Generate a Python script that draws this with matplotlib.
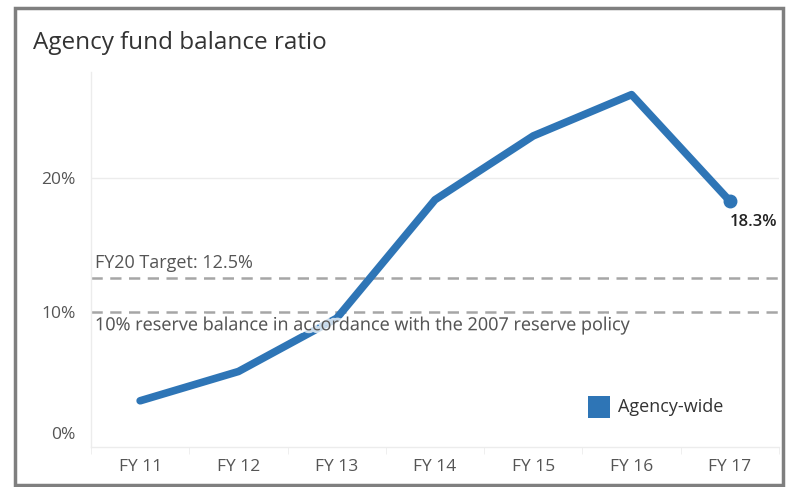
import matplotlib
matplotlib.use("Agg")
import matplotlib.pyplot as plt
from matplotlib.patches import Rectangle
import matplotlib.transforms as mtransforms
import matplotlib.patheffects as pe

categories = ["FY 11", "FY 12", "FY 13", "FY 14", "FY 15", "FY 16", "FY 17"]
values = [3.3, 5.5, 9.5, 18.4, 23.2, 26.3, 18.3]
target = 12.5
reserve = 10.0
series_name = "Agency-wide"
yticks = [0, 10, 20]
ytick_labels = ["0%", "10%", "20%"]

plt.rcParams['font.family'] = ['Open Sans', 'DejaVu Sans']

W, H = 788, 487
fig = plt.figure(figsize=(W / 100, H / 100), dpi=100)

# outer gray frame
fig.add_artist(Rectangle((15 / W, 1 - 485 / H), (783 - 15) / W, (485 - 8) / H,
                         transform=fig.transFigure, fill=False,
                         edgecolor="#7f7f7f", linewidth=2.5))

fig.text(33 / W, 1 - 43 / H, "Agency fund balance ratio", fontsize=17.5,
         color="#333333", ha="left", va="center")

ax = fig.add_axes([91 / W, 1 - 446.7 / H, (779 - 91) / W, (446.7 - 72) / H])
x = list(range(len(categories)))
blue = "#2E75B6"

ax.set_xlim(-0.5, len(categories) - 0.5)
ax.set_ylim(-0.15, 28)

for s in ["top", "right"]:
    ax.spines[s].set_visible(False)
ax.spines["left"].set_color("#ececec")
ax.spines["bottom"].set_color("#ececec")
ax.spines["left"].set_linewidth(1)
ax.spines["bottom"].set_linewidth(1)

ax.axhline(20, color="#ececec", linewidth=1, zorder=0)

ax.axhline(target, color="#a6a6a6", linewidth=1.8, linestyle=(0, (4.5, 3)), zorder=1)
ax.axhline(reserve, color="#a6a6a6", linewidth=1.8, linestyle=(0, (4.5, 3)), zorder=1)

ax.plot(x, values, color=blue, linewidth=5.5, solid_capstyle="round",
        solid_joinstyle="round", zorder=3)
ax.plot([x[-1]], [values[-1]], "o", color=blue, markersize=9, zorder=4)
ax.annotate(f"{values[-1]:.1f}%", (x[-1], values[-1]), xytext=(47, -21),
            textcoords="offset pixels", ha="right", va="center",
            fontsize=12, color="#222222", fontweight="semibold")

ax.text(-0.46, target + 0.5, f"FY20 Target: {target}%", fontsize=13,
        color="#555555", ha="left", va="bottom", zorder=2)
ax.text(-0.46, reserve - 0.35, "10% reserve balance in accordance with the 2007 reserve policy",
        fontsize=13, color="#555555", ha="left", va="top", zorder=5,
        path_effects=[pe.withStroke(linewidth=4, foreground=(1, 1, 1, 0.75))])

ax.set_yticks(yticks)
ax.set_yticklabels(ytick_labels)
ax.set_xticks(x)
ax.set_xticklabels(categories)
ax.set_xticks([i - 0.5 for i in range(len(categories) + 1)], minor=True)
ax.tick_params(axis="x", which="major", length=0, pad=9, labelsize=12.5, labelcolor="#555555")
ax.tick_params(axis="x", which="minor", length=5, color="#ececec")
ax.tick_params(axis="y", length=0, pad=11, labelsize=12.5, labelcolor="#555555")

# lift the 0% label slightly as in the reference
for lbl in ax.get_yticklabels():
    if lbl.get_text() == "0%":
        lbl.set_transform(lbl.get_transform() + mtransforms.ScaledTranslation(0, 12 / 100, fig.dpi_scale_trans))

# legend
fig.add_artist(Rectangle((588 / W, 1 - 418 / H), 22 / W, 22 / H,
                         transform=fig.transFigure, facecolor=blue, edgecolor="none"))
fig.text(618 / W, 1 - 407 / H, series_name, fontsize=13, color="#333333",
         ha="left", va="center")

fig.savefig("out.png", dpi=100)
